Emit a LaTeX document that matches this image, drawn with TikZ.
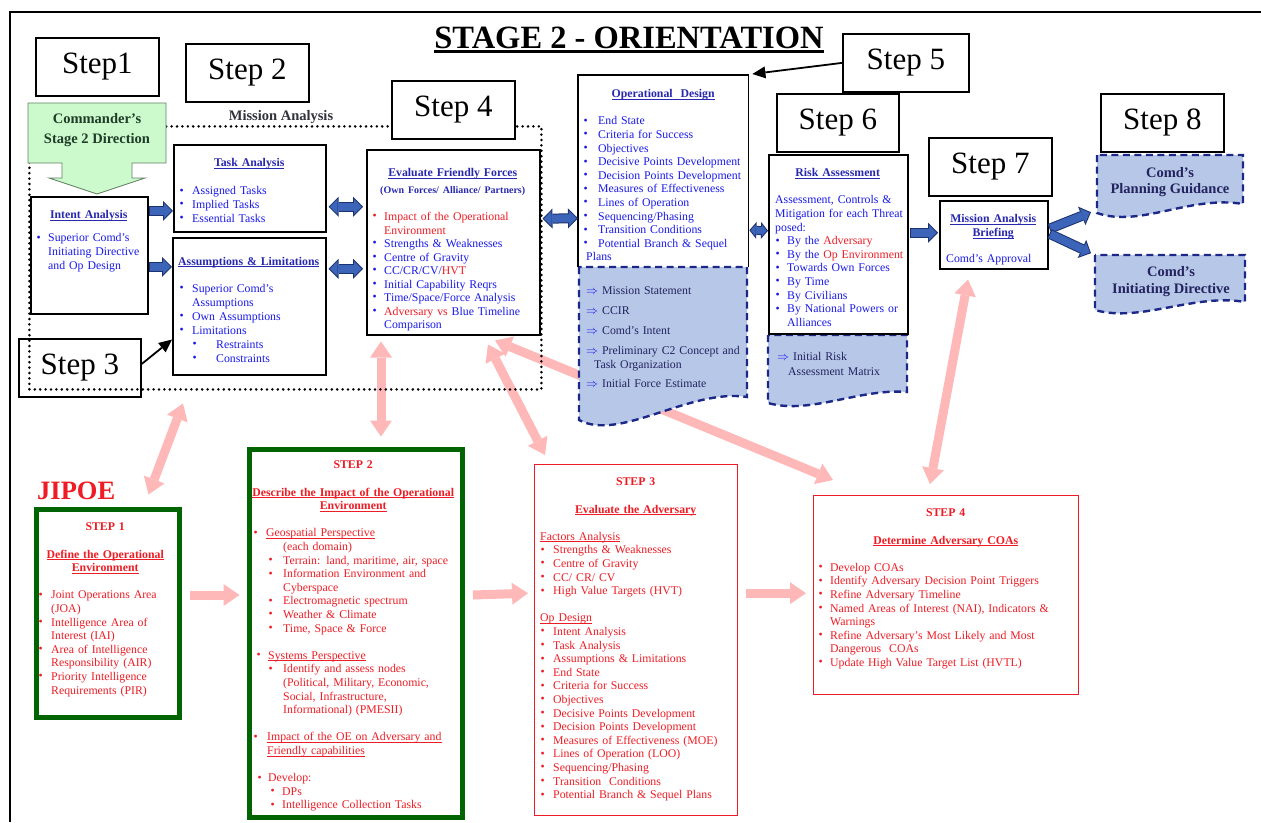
\documentclass[tikz,border=0pt]{standalone}
\usepackage{fontspec}
\setmainfont{Liberation Serif}
\usepackage{graphicx}
\usetikzlibrary{arrows.meta,calc}
\pgfdeclarelayer{bg}
\pgfsetlayers{bg,main}

\definecolor{hblue}{RGB}{40,40,175}
\definecolor{iblue}{RGB}{25,25,235}
\definecolor{jred}{RGB}{238,28,36}
\definecolor{docink}{RGB}{35,35,95}
\definecolor{docfill}{RGB}{183,199,232}
\definecolor{docline}{RGB}{28,40,135}
\definecolor{cmdfill}{RGB}{204,250,204}
\definecolor{cmdline}{RGB}{100,130,100}
\definecolor{cmdink}{RGB}{30,60,40}
\definecolor{malabel}{RGB}{50,50,60}
\definecolor{jgreen}{RGB}{0,100,0}
\definecolor{pinkarr}{RGB}{255,184,184}
\definecolor{bafill}{RGB}{60,100,185}
\definecolor{baline}{RGB}{28,50,110}

% list helpers
\newlength\bulo \newlength\buli \newlength\subo \newlength\subi \newlength\cw
\newcommand\bul{\raisebox{0.1ex}{\textbullet}}
\newcommand\bitem[1]{\par\hangindent\buli\hangafter1\noindent\hbox to\buli{\hskip\bulo\bul\hss}#1}
\newcommand\rbitem[1]{\par\hangindent\buli\hangafter1\noindent
  \hbox to\buli{\hskip\bulo\color{jred}\bul\hss}{\color{jred}#1}}
\newcommand\sitem[1]{\par\hangindent\subi\hangafter1\noindent\hbox to\subi{\hskip\subo\bul\hss}#1}
\newcommand\ctr[1]{\par\hbox to\cw{\hfil#1\hfil}}
\newcommand\tline[2][0]{\par\noindent\hskip#1pt\relax #2}
\newcommand\blank{\par\vskip\baselineskip}
\newcommand\gap[1]{\par\vskip#1pt\relax}
% underline sitting just under the baseline
\newcommand\ul[1]{\setbox0\hbox{#1}\rlap{\rule[-1.9pt]{\wd0}{0.75pt}}\box0}
\newcommand\hd[1]{\ul{\textbf{#1}}}
\newcommand\darr{{\color{iblue}$\Rightarrow$}}
\newcommand\ulx[1]{\setbox0\hbox{#1}\rlap{\rule[-4.5pt]{\wd0}{2.6pt}}\box0}

\tikzset{
  bo/.tip={Triangle[length=10pt,width=20pt,line width=0pt]},
  bi/.tip={Triangle[length=7.6pt,width=15.2pt,line width=0pt]},
  so/.tip={Triangle[length=7pt,width=17pt,line width=0pt]},
  si/.tip={Triangle[length=4.7pt,width=11.4pt,line width=0pt]},
  pk/.tip={Triangle[length=16pt,width=22pt,line width=0pt]},
  bk/.tip={Triangle[length=13pt,width=12pt,line width=0pt]},
}
\newcommand\blueone[2]{\draw[line width=10pt,draw=baline,-bo] #1 -- #2;
  \draw[line width=8pt,draw=bafill,-bi,shorten >=1.4pt,shorten <=1pt] #1 -- #2;}
\newcommand\bluetwo[2]{\draw[line width=10pt,draw=baline,bo-bo] #1 -- #2;
  \draw[line width=8pt,draw=bafill,bi-bi,shorten >=1.4pt,shorten <=1.4pt] #1 -- #2;}
\newcommand\bluesmall[2]{\draw[line width=9pt,draw=baline,so-so] #1 -- #2;
  \draw[line width=7pt,draw=bafill,si-si,shorten >=1.3pt,shorten <=1.3pt] #1 -- #2;}

\begin{document}
\begin{tikzpicture}[x=1pt,y=-1pt,
  every node/.style={inner sep=0pt},
  stepbox/.style={draw=black,line width=1.8pt,fill=white,anchor=north west,
    font=\fontsize{31}{36}\selectfont},
  wbox/.style={draw=black,line width=1.5pt,fill=white,anchor=north west},
  gbox/.style={draw=jgreen,line width=5pt,fill=white,anchor=north west},
  rbox/.style={draw=jred,line width=1.4pt,fill=white,anchor=north west},
  txt/.style={anchor=north west,text width=330pt,align=left,
    font=\fontsize{11.8}{13.6}\selectfont},
  docshape/.style={fill=docfill,draw=docline,line width=2.4pt,
    dash pattern=on 7pt off 4.5pt},
  maframe/.style={draw=black,line width=2.8pt,dash pattern=on 0pt off 5.4pt,
    line cap=round,anchor=north west},
  pinkd/.style={draw=pinkarr,line width=9pt,pk-pk},
  pinks/.style={draw=pinkarr,line width=9pt,-pk},
  blackarr/.style={draw=black,line width=1.8pt,-bk},
]
\useasboundingbox (0,0) rectangle (1261,822);
\begin{pgfonlayer}{bg}
  \fill[white] (0,0) rectangle (1261,822);
\end{pgfonlayer}

% page border (left and top)
\draw[line width=1.6pt] (10,822) -- (10,12) -- (1261,12);

% title
\node[anchor=base,font=\fontsize{32.5}{38}\selectfont\bfseries] (title) at (629,48)
  {\ulx{STAGE 2 - ORIENTATION}};

% ---------------- Mission analysis (top half) ----------------
\node[stepbox,minimum width=122pt,minimum height=58pt] (step3) at (18,338) {Step 3};

\node[wbox,minimum width=117pt,minimum height=117pt] (intent) at (30,196) {};
\node[wbox,minimum width=152pt,minimum height=87pt] (task) at (173,144) {};
\node[wbox,minimum width=153pt,minimum height=137pt] (asm) at (172,237) {};
\node[wbox,minimum width=173pt,minimum height=185pt] (eff) at (366,149) {};

\node[maframe,minimum width=512pt,minimum height=263pt] (mafr) at (28,125) {};
\node[anchor=base,font=\fontsize{14.5}{17}\selectfont\bfseries,text=malabel] (malab)
  at (281,120) {Mission Analysis};

% commander's direction callout
\draw[fill=cmdfill,draw=cmdline,line width=0.8pt]
  (28,103) -- (166,103) -- (166,163) -- (132,163) -- (132,178) -- (145,178)
  -- (97,194) -- (49,178) -- (62,178) -- (62,163) -- (28,163) -- cycle;
\node[anchor=north,align=center,font=\fontsize{14.5}{20}\selectfont\bfseries,
  text=cmdink] (cmd) at (97,113) {Commander's\\Stage 2 Direction};

\node[stepbox,minimum width=123pt,minimum height=58pt] (step1) at (35,37) {Step1};
\node[stepbox,minimum width=123pt,minimum height=58pt] (step2) at (185,43) {Step 2};
\node[stepbox,minimum width=123pt,minimum height=58pt] (step4) at (391,80) {Step 4};
\node[stepbox,minimum width=126pt,minimum height=58pt] (step5) at (842,33) {Step 5};
\node[stepbox,minimum width=122pt,minimum height=58pt] (step6) at (776,93) {Step 6};
\node[stepbox,minimum width=123pt,minimum height=58pt] (step7) at (928,137) {Step 7};
\node[stepbox,minimum width=123pt,minimum height=58pt] (step8) at (1100,93) {Step 8};

% operational design with its products
\node[fill=white,anchor=north west,minimum width=170pt,minimum height=192pt] (od) at (578,75) {};
\draw[line width=1.5pt] (od.south west) -- (od.north west) -- (od.north east) -- (od.south east);
\draw[docshape] (579,267) -- (579,420) .. controls (620,442) and (690,388) .. (747,397)
  -- (747,267) -- cycle;

% risk assessment with its product
\draw[docshape] (768,335) -- (768,403) .. controls (810,415) and (860,388) .. (907,392)
  -- (907,335) -- cycle;
\node[wbox,minimum width=139pt,minimum height=179pt] (risk) at (768,154) {};

\node[wbox,minimum width=108pt,minimum height=68pt] (brief) at (939,200) {};

% commander's products
\draw[docshape] (1097,155) -- (1097,213) .. controls (1140,228) and (1190,195) .. (1243,204)
  -- (1243,155) -- cycle;
\node[anchor=north west,minimum width=146pt,minimum height=58pt] (pgbox) at (1097,155) {};
\draw[docshape] (1095,255) -- (1095,310) .. controls (1140,323) and (1195,293) .. (1245,302)
  -- (1245,255) -- cycle;
\node[anchor=north west,minimum width=150pt,minimum height=55pt] (idbox) at (1095,255) {};

% ---------------- JIPOE (bottom half) ----------------
\node[anchor=base west,font=\fontsize{26.5}{30}\selectfont\bfseries,text=jred] (jipoe)
  at (37,499) {JIPOE};
\node[gbox,minimum width=143pt,minimum height=208pt] (j1) at (33.5,506.5) {};
\node[gbox,minimum width=213pt,minimum height=368pt] (j2) at (246.5,446.5) {};
\node[rbox,minimum width=203pt,minimum height=351pt] (j3) at (534,464) {};
\node[rbox,minimum width=265pt,minimum height=199pt] (j4) at (813,495) {};

% ---------------- texts ----------------
\node[txt,text=iblue] (intentT) at (33,205) {\setlength\cw{111pt}%
  \setlength\bulo{3.5pt}\setlength\buli{15pt}%
  \ctr{\color{hblue}\hd{Intent Analysis}}\gap{9.4}%
  \bitem{Superior Comd's\newline Initiating Directive\newline and Op Design}\par};

\node[txt,text=iblue] (taskT) at (176,153) {\setlength\cw{146pt}%
  \setlength\bulo{3.5pt}\setlength\buli{16pt}%
  \ctr{\color{hblue}\hd{Task Analysis}}\gap{14.4}%
  \bitem{Assigned Tasks}\bitem{Implied Tasks}\bitem{Essential Tasks}\par};

\node[txt,text=iblue,font=\fontsize{11.8}{14}\selectfont] (asmT) at (175,251) {\setlength\cw{147pt}%
  \setlength\bulo{4.5pt}\setlength\buli{17pt}\setlength\subo{17.5pt}\setlength\subi{41pt}%
  \ctr{\color{hblue}\hd{Assumptions \& Limitations}}\gap{13}%
  \bitem{Superior Comd's\newline Assumptions}\bitem{Own Assumptions}\bitem{Limitations}%
  \sitem{Restraints}\sitem{Constraints}\par};

\node[txt,text=iblue,font=\fontsize{11.8}{13.5}\selectfont] (effT) at (369,163) {\setlength\cw{167pt}%
  \setlength\bulo{3.5pt}\setlength\buli{15pt}%
  \ctr{\color{hblue}\hd{Evaluate Friendly Forces}}\gap{3.4}%
  \ctr{\color{hblue}\fontsize{10}{12}\selectfont\bfseries (Own Forces/ Alliance/ Partners)}\gap{13.4}%
  \rbitem{Impact of the Operational\newline Environment}%
  \bitem{Strengths \& Weaknesses}\bitem{Centre of Gravity}%
  \bitem{CC/CR/CV/{\color{jred}HVT}}\bitem{Initial Capability Reqrs}%
  \bitem{Time/Space/Force Analysis}%
  \bitem{{\color{jred}Adversary vs} Blue Timeline\newline Comparison}\par};

\node[txt,text=iblue] (odT) at (581,84) {\setlength\cw{164pt}%
  \setlength\bulo{2.5pt}\setlength\buli{17pt}%
  \ctr{\color{hblue}\hd{Operational\ \ Design}}\gap{13.4}%
  \bitem{End State}\bitem{Criteria for Success}\bitem{Objectives}%
  \bitem{Decisive Points Development}\bitem{Decision Points Development}%
  \bitem{Measures of Effectiveness}\bitem{Lines of Operation}%
  \bitem{Sequencing/Phasing}\bitem{Transition Conditions}%
  \bitem{Potential Branch \& Sequel}\tline[5]{Plans}\par};

\node[txt,text=docink] (odD) at (581,281) {%
  \tline[5]{\darr\ Mission Statement}\gap{6.4}%
  \tline[5]{\darr\ CCIR}\gap{6.4}%
  \tline[5]{\darr\ Comd's Intent}\gap{6.4}%
  \tline[5]{\darr\ Preliminary C2 Concept and}%
  \tline[13]{Task Organization}\gap{5.4}%
  \tline[5]{\darr\ Initial Force Estimate}\par};

\node[txt,text=iblue] (riskT) at (771,163) {\setlength\cw{133pt}%
  \setlength\bulo{4.5pt}\setlength\buli{16pt}%
  \ctr{\color{hblue}\hd{Risk Assessment}}\gap{13.4}%
  \tline[4]{Assessment, Controls \&}\tline[4]{Mitigation for each Threat}\tline[4]{posed:}%
  \bitem{By the {\color{jred}Adversary}}\bitem{By the {\color{jred}Op Environment}}%
  \bitem{Towards Own Forces}\bitem{By Time}\bitem{By Civilians}%
  \bitem{By National Powers or\newline Alliances}\par};

\node[txt,text=docink] (riskD) at (771,347) {%
  \tline[6]{\darr\ Initial Risk}\gap{1.4}\tline[17]{Assessment Matrix}\par};

\node[txt,text=iblue] (briefT) at (942,209) {\setlength\cw{102pt}%
  \ctr{\color{hblue}\hd{Mission Analysis}}\ctr{\color{hblue}\hd{Briefing}}\gap{12.8}%
  \tline[4]{Comd's Approval}\par};

\node[anchor=north,align=center,font=\fontsize{14.5}{16}\selectfont\bfseries,text=docink]
  (pgT) at (1170,167) {Comd's\\Planning Guidance};
\node[anchor=north,align=center,font=\fontsize{14.5}{17}\selectfont\bfseries,text=docink]
  (idT) at (1171,266) {Comd's\\Initiating Directive};

\node[txt,text=jred] (j1T) at (36,517) {\setlength\cw{138pt}%
  \setlength\bulo{2.5pt}\setlength\buli{15pt}%
  \ctr{\bfseries STEP 1}\blank
  \ctr{\hd{Define the Operational}}\ctr{\hd{Environment}}\blank
  \bitem{Joint Operations Area\newline (JOA)}%
  \bitem{Intelligence Area of\newline Interest (IAI)}%
  \bitem{Area of Intelligence\newline Responsibility (AIR)}%
  \bitem{Priority Intelligence\newline Requirements (PIR)}\par};

\node[txt,text=jred] (j2T) at (249,455) {\setlength\cw{208pt}%
  \ctr{\bfseries STEP 2}\blank
  \ctr{\hd{Describe the Impact of the Operational}}\ctr{\hd{Environment}}\blank
  \setlength\bulo{4.5pt}\setlength\buli{17pt}\setlength\subo{19.5pt}\setlength\subi{34pt}%
  \bitem{\ul{Geospatial Perspective}}%
  \tline[34]{(each domain)}%
  \sitem{Terrain: land, maritime, air, space}%
  \sitem{Information Environment and\newline Cyberspace}%
  \sitem{Electromagnetic spectrum}%
  \sitem{Weather \& Climate}%
  \sitem{Time, Space \& Force}\blank
  \setlength\bulo{7.5pt}\setlength\buli{19pt}%
  \bitem{\ul{Systems Perspective}}%
  \sitem{Identify and assess nodes\newline (Political, Military, Economic,\newline
    Social, Infrastructure,\newline Informational) (PMESII)}\blank
  \setlength\bulo{4.5pt}\setlength\buli{18pt}%
  \bitem{\ul{Impact of the OE on Adversary and}\newline\ul{Friendly capabilities}}\blank
  \setlength\bulo{8.5pt}\setlength\buli{19pt}\setlength\subo{21.5pt}\setlength\subi{33pt}%
  \bitem{Develop:}\sitem{DPs}\sitem{Intelligence Collection Tasks}\par};

\node[txt,text=jred] (j3T) at (539,472) {\setlength\cw{193pt}%
  \setlength\bulo{1.5pt}\setlength\buli{14pt}%
  \ctr{\bfseries STEP 3}\blank
  \ctr{\hd{Evaluate the Adversary}}\blank
  \tline[1]{\ul{Factors Analysis}}%
  \bitem{Strengths \& Weaknesses}\bitem{Centre of Gravity}%
  \bitem{CC/ CR/ CV}\bitem{High Value Targets (HVT)}\blank
  \tline[1]{\ul{Op Design}}%
  \bitem{Intent Analysis}\bitem{Task Analysis}\bitem{Assumptions \& Limitations}%
  \bitem{End State}\bitem{Criteria for Success}\bitem{Objectives}%
  \bitem{Decisive Points Development}\bitem{Decision Points Development}%
  \bitem{Measures of Effectiveness (MOE)}\bitem{Lines of Operation (LOO)}%
  \bitem{Sequencing/Phasing}\bitem{Transition\ \ Conditions}%
  \bitem{Potential Branch \& Sequel Plans}\par};

\node[txt,text=jred] (j4T) at (817,503) {\setlength\cw{257pt}%
  \setlength\bulo{1.5pt}\setlength\buli{13pt}%
  \ctr{\bfseries STEP 4}\blank
  \ctr{\hd{Determine Adversary COAs}}\blank
  \bitem{Develop COAs}\bitem{Identify Adversary Decision Point Triggers}%
  \bitem{Refine Adversary Timeline}%
  \bitem{Named Areas of Interest (NAI), Indicators \&\newline Warnings}%
  \bitem{Refine Adversary's Most Likely and Most\newline Dangerous\ \ COAs}%
  \bitem{Update High Value Target List (HVTL)}\par};

% ---------------- connectors ----------------
\blueone{([shift={(0,-44.5)}]intent.east)}{([shift={(0,22.5)}]task.west)}
\blueone{([shift={(0,11.5)}]intent.east)}{([shift={(0,-39.5)}]asm.west)}
\bluetwo{([shift={(2,18.5)}]task.east)}{([shift={(-3,-35.5)}]eff.west)}
\bluetwo{([shift={(2,-37.5)}]asm.east)}{([shift={(-3,26.5)}]eff.west)}
\bluetwo{([shift={(2,-23.5)}]eff.east)}{([shift={(0,47)}]od.west)}
\bluesmall{([shift={(1,59)}]od.east)}{([shift={(0,-13.5)}]risk.west)}
\blueone{([shift={(1,-11.5)}]risk.east)}{([shift={(-1,-2)}]brief.west)}
\blueone{([shift={(1,-6)}]brief.east)}{([shift={(-6,28)}]pgbox.west)}
\blueone{([shift={(1,-1)}]brief.east)}{([shift={(-4,-29.5)}]idbox.west)}

\draw[blackarr] (step5.west) -- ([shift={(4,-1)}]od.north east);
\draw[blackarr] ([shift={(0,-4)}]step3.east) -- ([shift={(0,-36)}]asm.south west);

\begin{pgfonlayer}{bg}
  \draw[pinkd] ([shift={(11,28)}]asm.south west) -- ([shift={(115,-12)}]j1.north west);
  \draw[pinkd] ([shift={(15,6)}]eff.south west) -- ([shift={(134.5,-10)}]j2.north west);
  \draw[pinkd] ([shift={(122,9)}]eff.south west) -- ([shift={(11,-9)}]j3.north west);
  \draw[pinkd] ([shift={(129,5)}]eff.south west) -- ([shift={(20,-15)}]j4.north west);
  \draw[pinkd] ([shift={(117,-11)}]j4.north west) -- ([shift={(29,10)}]brief.south west);
  \draw[pinks] ([shift={(8,-18)}]j1.east) -- ([shift={(-7,-38)}]j2.west);
  \draw[pinks] ([shift={(8.5,-38)}]j2.east) -- ([shift={(-6,-47)}]j3.west);
  \draw[pinks] ([shift={(8,-47)}]j3.east) -- ([shift={(-7,-2)}]j4.west);
\end{pgfonlayer}
\end{tikzpicture}
\end{document}
